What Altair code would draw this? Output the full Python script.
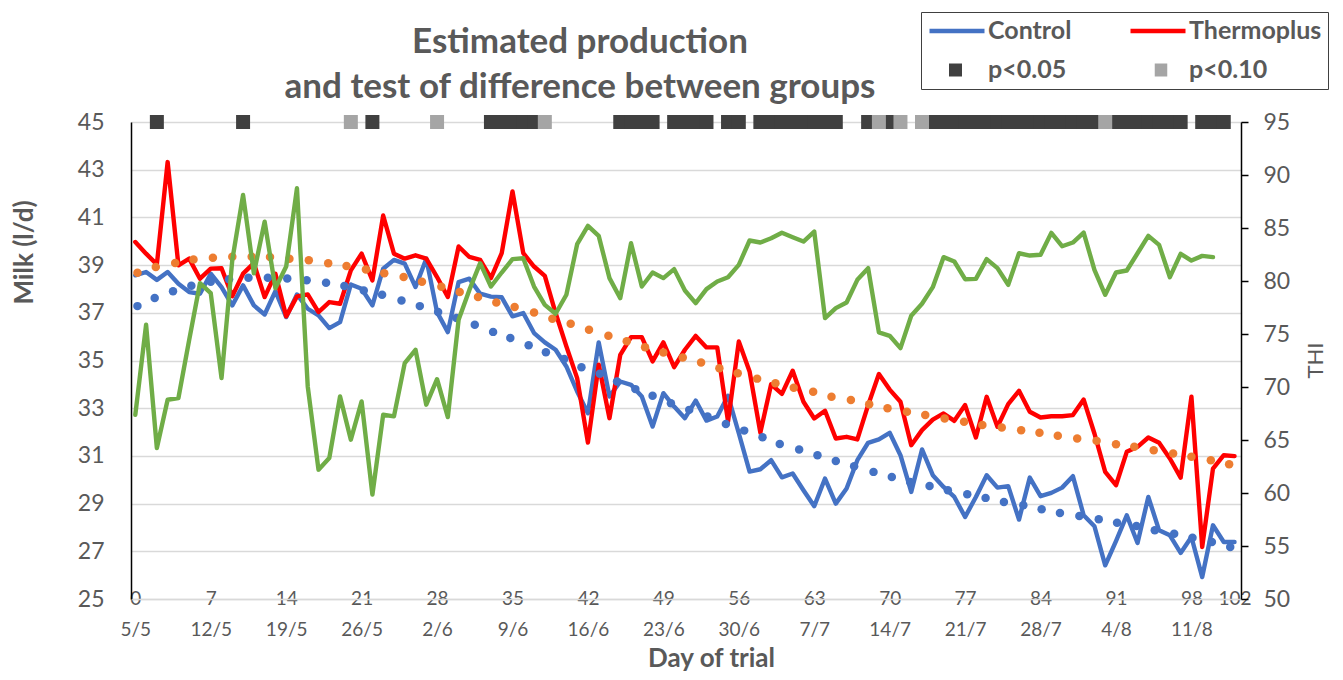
import altair as alt
import pandas as pd

# ---------------- data ----------------
days = list(range(103))

control = [
    38.57, 38.71, 38.38, 38.71, 38.22, 37.87, 37.80, 38.64, 38.08, 37.31,
    38.15, 37.31, 36.93, 37.91, 36.82, 37.77, 37.17, 36.89, 36.36, 36.61,
    38.19, 38.01, 37.31, 38.85, 39.22, 39.06, 38.08, 39.27, 37.03, 36.19,
    38.29, 38.43, 37.80, 37.68, 37.65, 36.85, 36.99, 36.15, 35.76, 35.45,
    34.75, 33.70, 32.79, 35.76, 33.49, 34.12, 33.98, 33.49, 32.23, 33.63,
    33.07, 32.58, 33.32, 32.48, 32.65, 33.52, 31.95, 30.34, 30.44, 30.82,
    30.10, 30.26, 29.56, 28.89, 30.05, 29.00, 29.63, 30.82, 31.55, 31.69,
    31.97, 31.03, 29.49, 31.27, 30.19, 29.70, 29.28, 28.44, 29.28, 30.19,
    29.67, 29.73, 28.33, 30.09, 29.31, 29.45, 29.67, 30.15, 28.51, 28.05,
    26.41, 27.43, 28.51, 27.35, 29.28, 27.88, 27.67, 26.93, 27.60, 25.92,
    28.09, 27.39, 27.39,
]

thermoplus = [
    39.97, 39.48, 39.03, 43.32, 38.99, 39.27, 38.43, 38.85, 38.87, 37.70,
    38.64, 39.08, 37.66, 38.64, 36.85, 37.69, 37.77, 37.03, 37.45, 37.38,
    38.78, 39.48, 38.36, 41.08, 39.48, 39.27, 39.41, 39.27, 38.50, 37.66,
    39.78, 39.34, 39.22, 38.45, 39.50, 42.09, 39.50, 38.94, 38.55, 36.99,
    35.59, 34.26, 31.56, 34.82, 32.58, 35.24, 35.98, 35.98, 34.96, 35.76,
    34.72, 35.45, 36.03, 35.55, 35.55, 32.44, 35.80, 34.54, 31.98, 34.00,
    33.60, 34.57, 33.27, 32.57, 32.89, 31.73, 31.80, 31.69, 33.13, 34.43,
    33.78, 33.27, 31.45, 32.08, 32.52, 32.78, 32.47, 33.13, 31.77, 33.48,
    32.22, 33.17, 33.73, 32.85, 32.61, 32.66, 32.66, 32.71, 33.36, 31.94,
    30.33, 29.77, 31.17, 31.38, 31.77, 31.55, 30.89, 30.09, 33.48, 27.18,
    30.47, 31.03, 30.99,
]

thi_days = list(range(101))
thi = [
    67.38, 75.87, 64.24, 68.80, 68.96, 74.45, 79.79, 78.85, 70.84, 81.99,
    88.12, 80.73, 85.60, 79.32, 81.36, 88.75, 70.05, 62.20, 63.30, 69.11,
    65.03, 68.64, 59.85, 67.38, 67.23, 72.25, 73.51, 68.33, 70.74, 67.16,
    76.34, 79.16, 81.68, 79.48, 80.80, 82.06, 82.15, 79.48, 77.75, 76.91,
    78.70, 83.47, 85.20, 84.26, 80.27, 78.38, 83.57, 79.48, 80.80, 80.27,
    81.12, 79.10, 77.91, 79.23, 79.95, 80.36, 81.52, 83.82, 83.63, 84.03,
    84.55, 84.13, 83.72, 84.66, 76.50, 77.44, 77.97, 80.11, 81.21, 75.15,
    74.83, 73.67, 76.72, 77.85, 79.42, 82.25, 81.84, 80.17, 80.20, 82.06,
    81.21, 79.64, 82.62, 82.40, 82.47, 84.54, 83.28, 83.63, 84.57, 81.05,
    78.70, 80.80, 80.99, 82.62, 84.26, 83.41, 80.36, 82.56, 81.93, 82.37,
    82.25,
]

# dotted trend lines: positions of the dots
ctrl_trend_day = [
    0.2, 1.8, 3.5, 5.2, 7.0, 8.7, 10.5, 12.3, 14.1, 15.9, 17.7, 19.4, 21.2,
    22.9, 24.7, 26.4, 28.1, 29.8, 31.5, 33.2, 34.8, 36.5, 38.1, 39.8, 41.4,
    43.1, 44.7, 46.4, 48.0, 49.7, 51.4, 53.1, 54.8, 56.5, 58.2, 59.8, 61.6,
    63.3, 65.0, 66.7, 68.5, 70.2, 71.9, 73.7, 75.4, 77.2, 78.9, 80.6, 82.4,
    84.1, 85.8, 87.6, 89.4, 91.1, 92.9, 94.6, 96.4, 98.1, 99.9, 101.6,
]
ctrl_trend_val = [
    37.28, 37.62, 37.90, 38.13, 38.30, 38.41, 38.47, 38.47, 38.44, 38.36,
    38.26, 38.12, 37.94, 37.76, 37.52, 37.28, 37.03, 36.78, 36.50, 36.20,
    35.94, 35.64, 35.35, 35.06, 34.72, 34.44, 34.12, 33.80, 33.52, 33.21,
    32.93, 32.65, 32.34, 32.06, 31.78, 31.50, 31.27, 31.03, 30.79, 30.57,
    30.33, 30.12, 29.91, 29.74, 29.56, 29.39, 29.24, 29.07, 28.93, 28.76,
    28.61, 28.48, 28.34, 28.20, 28.06, 27.88, 27.74, 27.57, 27.39, 27.18,
]
thermo_trend_day = [
    0.2, 1.9, 3.7, 5.4, 7.2, 9.0, 10.8, 12.5, 14.3, 16.1, 17.9, 19.6, 21.4,
    23.1, 24.9, 26.6, 28.4, 30.1, 31.8, 33.5, 35.2, 37.0, 38.7, 40.4, 42.1,
    43.9, 45.6, 47.3, 49.0, 50.8, 52.5, 54.2, 55.9, 57.7, 59.4, 61.1, 62.9,
    64.6, 66.4, 68.1, 69.8, 71.6, 73.3, 75.1, 76.9, 78.6, 80.4, 82.2, 83.9,
    85.6, 87.4, 89.2, 91.0, 92.7, 94.5, 96.3, 98.0, 99.8, 101.5,
]
thermo_trend_val = [
    38.68, 38.92, 39.09, 39.24, 39.31, 39.35, 39.35, 39.34, 39.27, 39.20,
    39.08, 38.96, 38.82, 38.66, 38.50, 38.30, 38.09, 37.87, 37.66, 37.43,
    37.24, 37.01, 36.75, 36.54, 36.29, 36.04, 35.81, 35.56, 35.34, 35.13,
    34.92, 34.68, 34.47, 34.24, 34.05, 33.86, 33.69, 33.48, 33.34, 33.17,
    33.00, 32.85, 32.71, 32.57, 32.43, 32.30, 32.19, 32.08, 31.97, 31.84,
    31.73, 31.63, 31.49, 31.38, 31.24, 31.10, 30.96, 30.82, 30.65,
]

# days with a significant difference between groups
sig05_days = [2, 10, 22, 33, 34, 35, 36, 37, 45, 46, 47, 48, 50, 51, 52, 53,
              55, 56, 58, 59, 60, 61, 62, 63, 64, 65, 68, 70,
              74, 75, 76, 77, 78, 79, 80, 81, 82, 83, 84, 85, 86, 87, 88, 89,
              91, 92, 93, 94, 95, 96, 97, 99, 100, 101]
sig10_days = [20, 28, 38, 69, 71, 73, 90]
sig_level = 45

tick_days = [0, 7, 14, 21, 28, 35, 42, 49, 56, 63, 70, 77, 84, 91, 98, 102]
tick_dates = ["5/5", "12/5", "19/5", "26/5", "2/6", "9/6", "16/6", "23/6",
              "30/6", "7/7", "14/7", "21/7", "28/7", "4/8", "11/8", ""]

series_names = ["Control", "Thermoplus"]
sig_names = ["p<0.05", "p<0.10"]
series_colors = ["#4472C4", "#FF0000"]
sig_colors = ["#404040", "#A5A5A5"]

# ---------------- frames ----------------
lines_df = pd.DataFrame({
    "day": days + days,
    "milk": control + thermoplus,
    "series": [series_names[0]] * len(days) + [series_names[1]] * len(days),
})
thi_df = pd.DataFrame({"day": thi_days, "thi": thi})
ctrl_tr = pd.DataFrame({"day": ctrl_trend_day, "v": ctrl_trend_val})
thermo_tr = pd.DataFrame({"day": thermo_trend_day, "v": thermo_trend_val})
sig_df = pd.DataFrame({
    "day": sig05_days + sig10_days,
    "level": [sig_names[0]] * len(sig05_days) + [sig_names[1]] * len(sig10_days),
})

FONT = "Lato"
GREY = "#595959"

parts = []
for d, dt in zip(tick_days, tick_dates):
    if dt:
        parts.append(f"datum.value == {d} ? ['{d}', '{dt}']")
    else:
        parts.append(f"datum.value == {d} ? '{d}'")
label_expr = " : ".join(parts) + " : ''"

x_axis = alt.Axis(
    values=tick_days, labelExpr=label_expr, title="Day of trial", grid=False,
    domainColor="#D9D9D9", domainWidth=1.3, ticks=False,
    labelBaseline="top", labelPadding=-10, labelLineHeight=31,
    labelFontSize=19, labelFont=FONT, labelColor=GREY,
    labelFlush=False, labelOverlap=False,
    titleFont=FONT, titleFontSize=26, titleFontWeight="bold", titleColor=GREY,
    titleX=580, titleY=59, titleBaseline="middle", titleAlign="center",
)
x_enc = alt.X("day:Q", scale=alt.Scale(domain=[-0.4, 102.6], nice=False, zero=False), axis=x_axis)

y_axis = alt.Axis(
    values=list(range(25, 46, 2)), title="Milk (l/d)", grid=True,
    gridColor="#D9D9D9", gridWidth=1.3, domainColor="#000000", domainWidth=1.5,
    ticks=False, labelPadding=27, labelFontSize=23, labelFont=FONT, labelColor=GREY,
    titleFont=FONT, titleFontSize=26, titleFontWeight="bold", titleColor=GREY,
    titleX=-107, titleY=130, titleAngle=270, titleAlign="center", titleBaseline="middle",
)
y_scale = alt.Scale(domain=[25, 45], nice=False, zero=False)

# legend with the box: the two lines plus the two p-value labels
legend_lines = alt.Legend(
    title=None, orient="none", legendX=790, legendY=-110,
    direction="horizontal", columns=2, columnPadding=56, rowPadding=13,
    clipHeight=26, padding=6,
    labelFont=FONT, labelFontSize=25, labelFontWeight="bold", labelColor=GREY,
    labelOffset=1, labelLimit=400,
    strokeColor="#404040",
    symbolType="stroke", symbolSize=3025, symbolStrokeWidth=4.4, symbolOpacity=1,
)
# second legend: only the two squares, placed on the second row of the box
legend_squares = alt.Legend(
    title=None, orient="none", legendX=818, legendY=-65,
    direction="horizontal", columns=2, columnPadding=192.5,
    clipHeight=26, padding=0, labelExpr="''", labelOffset=0,
    symbolType="square", symbolSize=169, symbolStrokeWidth=0, symbolOpacity=1,
)

milk_lines = alt.Chart(lines_df).mark_line(
    strokeWidth=4.4, strokeJoin="round", strokeCap="round").encode(
    x=x_enc,
    y=alt.Y("milk:Q", scale=y_scale, axis=y_axis),
    color=alt.Color("series:N",
                    scale=alt.Scale(domain=series_names + sig_names,
                                    range=series_colors + ["transparent", "transparent"]),
                    legend=legend_lines),
)
ctrl_dots = alt.Chart(ctrl_tr).mark_circle(color="#4472C4", opacity=1, size=72).encode(
    x=x_enc, y=alt.Y("v:Q", scale=y_scale, axis=y_axis))
thermo_dots = alt.Chart(thermo_tr).mark_circle(color="#ED7D31", opacity=1, size=72).encode(
    x=x_enc, y=alt.Y("v:Q", scale=y_scale, axis=y_axis))
sig_marks = alt.Chart(sig_df).mark_square(size=196, opacity=1).encode(
    x=x_enc, y=alt.datum(sig_level),
    fill=alt.Fill("level:N", scale=alt.Scale(domain=sig_names, range=sig_colors),
                  legend=legend_squares),
)

milk_layer = alt.layer(milk_lines, ctrl_dots, thermo_dots, sig_marks)

thi_line = alt.Chart(thi_df).mark_line(
    color="#70AD47", strokeWidth=4.4, strokeJoin="round", strokeCap="round").encode(
    x=x_enc,
    y=alt.Y("thi:Q", scale=alt.Scale(domain=[50, 95], nice=False, zero=False),
            axis=alt.Axis(orient="right", values=list(range(50, 96, 5)), grid=False,
                          domainColor="#000000", domainWidth=1.5, ticks=True,
                          tickColor="#000000", tickWidth=1.5, tickSize=7,
                          labelPadding=15, labelFontSize=23, labelFont=FONT, labelColor=GREY,
                          title="THI", titleFont=FONT, titleFontSize=22, titleFontWeight="normal",
                          titleColor=GREY, titleX=74, titleY=238, titleAngle=270,
                          titleAlign="center", titleBaseline="middle")),
)

chart = alt.layer(milk_layer, thi_line).resolve_scale(y="independent").properties(
    width=1110, height=477,
    autosize=alt.AutoSizeParams(type="none"),
    padding={"left": 123, "top": 114, "right": 94, "bottom": 73},
    title=alt.TitleParams(
        text=["Estimated production", "and test of difference between groups"],
        font=FONT, fontSize=35, fontWeight="bold", color=GREY,
        anchor="middle", frame="group", dx=-106, dy=97, lineHeight=45,
    ),
).configure_view(stroke=None)

chart.save("out.html", embed_options={"renderer": "svg", "actions": False})
